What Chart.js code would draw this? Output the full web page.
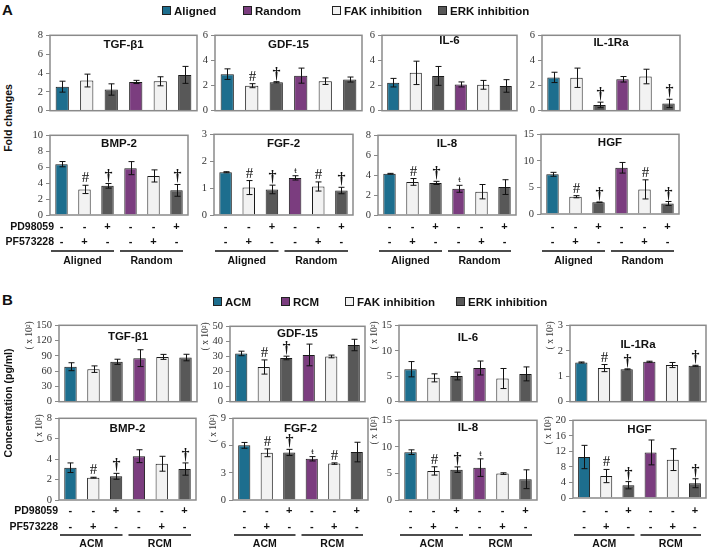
<!DOCTYPE html>
<html>
<head>
<meta charset="utf-8">
<script src="https://cdn.jsdelivr.net/npm/chart.js@4"></script>
<style>
  body { margin: 0; background: #fff; width: 709px; height: 550px; position: relative; overflow: hidden;
         font-family: "Liberation Sans", Arial, sans-serif; color: #111; }
  .lbl { position: absolute; font-weight: bold; white-space: nowrap; z-index: 5; }
  .leg { position: absolute; font-weight: bold; font-size: 11.5px; line-height: 14px; white-space: nowrap; z-index: 5; }
  .sw { display: inline-block; width: 7px; height: 7px; border: 1px solid #222; margin-right: 3px; vertical-align: 0px; }
  .rot { position: absolute; font-weight: bold; white-space: nowrap; transform: translate(-50%, -50%) rotate(-90deg); z-index: 5; }
  canvas { display: block; }
</style>
</head>
<body>
<div class="lbl" style="left:2px;top:1px;font-size:15px;">A</div>
<div class="lbl" style="left:2px;top:291px;font-size:15px;">B</div>
<div class="rot" style="left:8px;top:118px;font-size:10.5px;">Fold changes</div>
<div class="rot" style="left:8px;top:403px;font-size:10.5px;">Concentration (pg/ml)</div>
<script>
// bar order: control, FAK inhibition (PF573228), ERK inhibition (PD98059), then again for the second group
const barColors = ['#1d6e8e', '#f2f2f2', '#585858', '#7b3d7f', '#f2f2f2', '#585858'];
const barLabels = ['ctrl 1', 'FAK 1', 'ERK 1', 'ctrl 2', 'FAK 2', 'ERK 2'];
const pd98059 = ['-', '-', '+', '-', '-', '+'];
const pf573228 = ['-', '+', '-', '-', '+', '-'];
const groupsA = ['Aligned', 'Random'];
const groupsB = ['ACM', 'RCM'];
const legendA = ['Aligned', 'Random', 'FAK inhibition', 'ERK inhibition'];
const legendB = ['ACM', 'RCM', 'FAK inhibition', 'ERK inhibition'];
const legendColors = ['#1d6e8e', '#7b3d7f', '#f2f2f2', '#585858'];
const noMarks = ['', '', '', '', '', ''];

// A - fold changes
const aTgfVals = [2.55, 3.2, 2.25, 3.05, 3.12, 3.8];
const aTgfErr = [0.58, 0.68, 0.6, 0.17, 0.48, 0.9];
const aGdfVals = [2.91, 1.99, 2.26, 2.79, 2.35, 2.48];
const aGdfErr = [0.42, 0.16, 0.05, 0.6, 0.26, 0.2];
const aGdfMarks = ['', '#', '†', '', '', ''];
const aIl6Vals = [2.23, 3.01, 2.77, 2.09, 2.06, 1.97];
const aIl6Err = [0.34, 0.93, 0.75, 0.2, 0.35, 0.5];
const aIl1raVals = [2.65, 2.62, 0.46, 2.5, 2.72, 0.58];
const aIl1raErr = [0.41, 0.77, 0.22, 0.22, 0.58, 0.33];
const aIl1raMarks = ['', '', '†', '', '', '†'];
const aBmpVals = [6.38, 3.21, 3.66, 5.88, 4.9, 3.09];
const aBmpErr = [0.33, 0.52, 0.29, 0.82, 0.76, 0.74];
const aBmpMarks = ['', '#', '†', '', '', '†'];
const aFgfVals = [1.59, 1.02, 0.95, 1.38, 1.06, 0.91];
const aFgfErr = [0.02, 0.26, 0.16, 0.08, 0.17, 0.12];
const aFgfMarks = ['', '#', '†', 'ŧ', '#', '†'];
const aIl8Vals = [4.14, 3.32, 3.22, 2.63, 2.34, 2.8];
const aIl8Err = [0.04, 0.34, 0.16, 0.35, 0.72, 0.74];
const aIl8Marks = ['', '#', '†', 'ŧ', '', ''];
const aHgfVals = [7.47, 3.25, 2.2, 8.7, 4.63, 1.98];
const aHgfErr = [0.37, 0.2, 0.06, 1.0, 1.8, 0.37];
const aHgfMarks = ['', '#', '†', '', '#', '†'];

// B - concentration (x 10^2 pg/ml)
const bTgfVals = [68.7, 63.9, 78.3, 85.5, 88, 86.7];
const bTgfErr = [7.8, 6.4, 5.1, 16.5, 4.9, 6.4];
const bGdfVals = [32, 23, 29, 31, 30, 37.6];
const bGdfErr = [1.5, 4.7, 1.2, 7.2, 0.9, 3.8];
const bGdfMarks = ['', '#', '†', '', '', ''];
const bIl6Vals = [6.38, 4.68, 5.04, 6.62, 4.55, 5.46];
const bIl6Err = [1.5, 0.79, 0.76, 1.37, 1.97, 1.37];
const bIl1raVals = [1.54, 1.32, 1.27, 1.57, 1.44, 1.41];
const bIl1raErr = [0.02, 0.14, 0.02, 0.02, 0.1, 0.02];
const bIl1raMarks = ['', '#', '†', '', '', '†'];
const bBmpVals = [3.16, 2.19, 2.32, 4.29, 3.55, 3.03];
const bBmpErr = [0.47, 0.04, 0.29, 0.63, 0.73, 0.6];
const bBmpMarks = ['', '#', '†', '', '', '†'];
const bFgfVals = [6.02, 5.2, 5.24, 4.54, 4.01, 5.28];
const bFgfErr = [0.32, 0.43, 0.34, 0.24, 0.08, 1.08];
const bFgfMarks = ['', '#', '†', 'ŧ', '#', ''];
const bIl8Vals = [9.0, 5.47, 5.71, 6.09, 4.97, 3.91];
const bIl8Err = [0.44, 0.78, 0.52, 1.65, 0.15, 1.77];
const bIl8Marks = ['', '#', '†', 'ŧ', '', ''];
const bHgfVals = [10.55, 5.65, 3.29, 11.73, 9.87, 3.8];
const bHgfErr = [3.0, 1.7, 0.93, 3.2, 2.8, 1.15];
const bHgfMarks = ['', '#', '†', '', '', '†'];

const panels = [
  { title: 'TGF-β1', vals: aTgfVals, err: aTgfErr, marks: noMarks, max: 8, step: 2, box: [50, 34, 197, 117], tdy: 9.5 },
  { title: 'GDF-15', vals: aGdfVals, err: aGdfErr, marks: aGdfMarks, max: 6, step: 2, box: [215, 34, 362, 117], tdy: 10 },
  { title: 'IL-6', vals: aIl6Vals, err: aIl6Err, marks: noMarks, max: 6, step: 2, box: [382, 34, 517, 117], tdy: 5.5 },
  { title: 'IL-1Ra', vals: aIl1raVals, err: aIl1raErr, marks: aIl1raMarks, max: 6, step: 2, box: [542, 34, 680, 117], tdy: 8 },
  { title: 'BMP-2', vals: aBmpVals, err: aBmpErr, marks: aBmpMarks, max: 10, step: 2, box: [50, 134, 188, 215], tdy: 8.5, groups: groupsA, rows: [12, 27, 36, 46] },
  { title: 'FGF-2', vals: aFgfVals, err: aFgfErr, marks: aFgfMarks, max: 3, step: 1, box: [214, 133, 353, 215], tdy: 9.5, groups: groupsA, rows: [12, 27, 36, 46] },
  { title: 'IL-8', vals: aIl8Vals, err: aIl8Err, marks: aIl8Marks, max: 8, step: 2, box: [378, 134, 516, 215], tdy: 8.5, groups: groupsA, rows: [12, 27, 36, 46] },
  { title: 'HGF', vals: aHgfVals, err: aHgfErr, marks: aHgfMarks, max: 15, step: 5, box: [541, 133, 679, 214], tdy: 9, groups: groupsA, rows: [13, 28, 37, 47] },
  { title: 'TGF-β1', vals: bTgfVals, err: bTgfErr, marks: noMarks, max: 150, step: 30, box: [59, 324, 197, 408], tdy: 12, unit: true },
  { title: 'GDF-15', vals: bGdfVals, err: bGdfErr, marks: bGdfMarks, max: 50, step: 10, box: [230, 325, 365, 408], tdy: 8, unit: true },
  { title: 'IL-6', vals: bIl6Vals, err: bIl6Err, marks: noMarks, max: 15, step: 5, box: [399, 324, 537, 408], tdy: 13, unit: true },
  { title: 'IL-1Ra', vals: bIl1raVals, err: bIl1raErr, marks: bIl1raMarks, max: 3, step: 1, box: [570, 324, 706, 408], tdy: 20, unit: true },
  { title: 'BMP-2', vals: bBmpVals, err: bBmpErr, marks: bBmpMarks, max: 8, step: 2, box: [59, 417, 196, 500], tdy: 11, unit: true, groups: groupsB, rows: [11, 27, 35, 44] },
  { title: 'FGF-2', vals: bFgfVals, err: bFgfErr, marks: bFgfMarks, max: 9, step: 3, box: [233, 417, 368, 500], tdy: 11, unit: true, groups: groupsB, rows: [11, 27, 35, 44] },
  { title: 'IL-8', vals: bIl8Vals, err: bIl8Err, marks: bIl8Marks, max: 15, step: 5, box: [399, 419, 537, 500], tdy: 8, unit: true, groups: groupsB, rows: [11, 27, 35, 44] },
  { title: 'HGF', vals: bHgfVals, err: bHgfErr, marks: bHgfMarks, max: 20, step: 4, box: [573, 419, 706, 498], tdy: 10, unit: true, groups: groupsB, rows: [13, 29, 37, 46] }
];

const SANS = '"Liberation Sans", Arial, sans-serif';
const SERIF = '"Liberation Serif", "Times New Roman", serif';

// draws error bars, significance marks, frame, title and the treatment table
function decorPlugin(p) {
  return {
    id: 'decor',
    afterDatasetsDraw(chart) {
      const ctx = chart.ctx;
      const a = chart.chartArea;
      const y = chart.scales.y;
      const bars = chart.getDatasetMeta(0).data;
      ctx.save();

      bars.forEach((bar, i) => {
        const v = p.vals[i], e = p.err[i];
        const yt = y.getPixelForValue(v + e);
        const yb = y.getPixelForValue(Math.max(v - e, 0));
        const x = Math.round(bar.x) + 0.5;
        ctx.strokeStyle = '#111';
        ctx.lineWidth = 1;
        ctx.beginPath();
        ctx.moveTo(x, yt); ctx.lineTo(x, yb);
        ctx.moveTo(x - 3, yt); ctx.lineTo(x + 3, yt);
        ctx.moveTo(x - 3, yb); ctx.lineTo(x + 3, yb);
        ctx.stroke();
        const m = p.marks[i];
        if (m) {
          ctx.fillStyle = '#111';
          ctx.textAlign = 'center';
          ctx.textBaseline = 'alphabetic';
          if (m === 'ŧ') ctx.font = '9px ' + SERIF;
          else if (m === '†') ctx.font = 'bold 16px ' + SERIF;
          else ctx.font = '15px ' + SERIF;
          ctx.fillText(m, x, yt - 3);
        }
      });

      ctx.strokeStyle = '#8a8a8a';
      ctx.lineWidth = 1.5;
      ctx.strokeRect(a.left, a.top, a.right - a.left, a.bottom - a.top);

      ctx.fillStyle = '#111';
      ctx.font = 'bold 11.5px ' + SANS;
      ctx.textAlign = 'center';
      ctx.textBaseline = 'middle';
      ctx.fillText(p.title, (a.left + a.right) / 2, a.top + p.tdy);

      if (p.unit) {
        ctx.font = '10px ' + SERIF;
        const w = ctx.measureText(String(p.max)).width;
        ctx.save();
        ctx.translate(a.left - 7 - w - 8, a.top + 10);
        ctx.rotate(-Math.PI / 2);
        ctx.font = '9.5px ' + SERIF;
        ctx.fillStyle = '#333';
        ctx.fillText('( x 10²)', 0, 0);
        ctx.restore();
      }

      if (p.groups) {
        const cw = (a.right - a.left) / bars.length;
        ctx.font = 'bold 11px ' + SANS;
        ctx.fillStyle = '#111';
        bars.forEach((bar, i) => {
          ctx.fillText(pd98059[i], bar.x, a.bottom + p.rows[0]);
          ctx.fillText(pf573228[i], bar.x, a.bottom + p.rows[1]);
        });
        ctx.strokeStyle = '#111';
        ctx.lineWidth = 1.5;
        p.groups.forEach((g, k) => {
          const x0 = bars[k * 3].x - cw / 2 + 1;
          const x1 = bars[k * 3 + 2].x + cw / 2 - 5;
          ctx.beginPath();
          ctx.moveTo(x0, a.bottom + p.rows[2]);
          ctx.lineTo(x1, a.bottom + p.rows[2]);
          ctx.stroke();
          ctx.font = 'bold 10.5px ' + SANS;
          ctx.fillText(g, (x0 + x1) / 2, a.bottom + p.rows[3]);
        });
      }
      ctx.restore();
    }
  };
}

function makePanel(p) {
  const yw = p.unit ? 46 : 36;
  const padTop = 8, padRight = 3, padBottom = p.groups ? 54 : 3;
  const [l, t, r, b] = p.box;
  const w = r - l + yw + padRight;
  const h = b - t + padTop + padBottom;
  const c = document.createElement('canvas');
  c.width = w;
  c.height = h;
  c.style.position = 'absolute';
  c.style.left = (l - yw) + 'px';
  c.style.top = (t - padTop) + 'px';
  c.style.width = w + 'px';
  c.style.height = h + 'px';
  document.body.appendChild(c);

  new Chart(c, {
    type: 'bar',
    data: {
      labels: barLabels,
      datasets: [{
        data: p.vals,
        backgroundColor: barColors,
        borderColor: '#1a1a1a',
        borderWidth: 1,
        barPercentage: 0.54,
        categoryPercentage: 1
      }]
    },
    options: {
      responsive: false,
      animation: false,
      devicePixelRatio: 1,
      layout: { padding: { top: padTop, right: padRight, bottom: padBottom, left: 0 } },
      plugins: { legend: { display: false }, tooltip: { enabled: false } },
      scales: {
        x: { display: false },
        y: {
          min: 0,
          max: p.max,
          afterFit: s => { s.width = yw; },
          ticks: { stepSize: p.step, color: '#333', padding: 3, font: { family: SERIF, size: 10.5 } },
          grid: { drawOnChartArea: false, drawTicks: true, tickLength: 4, color: '#888' },
          border: { display: false }
        }
      }
    },
    plugins: [decorPlugin(p)]
  });
}

panels.forEach(makePanel);

function addLabel(text, left, top, size, right) {
  const d = document.createElement('div');
  d.className = 'lbl';
  d.textContent = text;
  d.style.fontSize = size + 'px';
  d.style.top = top + 'px';
  if (right) { d.style.right = (709 - left) + 'px'; } else { d.style.left = left + 'px'; }
  document.body.appendChild(d);
}
addLabel('PD98059', 54, 220, 10.5, true);
addLabel('PF573228', 54, 235, 10.5, true);
addLabel('PD98059', 58, 504, 10.5, true);
addLabel('PF573228', 58, 520, 10.5, true);

function addLegend(items, xs, top) {
  items.forEach((txt, i) => {
    const d = document.createElement('div');
    d.className = 'leg';
    d.style.left = xs[i] + 'px';
    d.style.top = top + 'px';
    d.innerHTML = '<span class="sw" style="background:' + legendColors[i] + '"></span>';
    d.appendChild(document.createTextNode(txt));
    document.body.appendChild(d);
  });
}
addLegend(legendA, [162, 243, 332, 438], 4);
addLegend(legendB, [213, 281, 345, 456], 295);
</script>
</body>
</html>
